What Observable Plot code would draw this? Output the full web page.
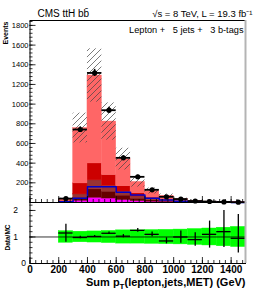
<!DOCTYPE html>
<html><head><meta charset="utf-8">
<script src="https://cdn.jsdelivr.net/npm/d3@7"></script>
<script src="https://cdn.jsdelivr.net/npm/@observablehq/plot@0.6"></script>
<style>
body{margin:0;background:#fff;}
#wrap{position:relative;width:258px;height:290px;background:#fff;}
#wrap svg{display:block;overflow:visible;}
</style></head><body>
<svg width="0" height="0" style="position:absolute"><defs>
<pattern id="hatch" patternUnits="userSpaceOnUse" width="6" height="6">
<path d="M-1,1 L1,-1 M0,6 L6,0 M5,7 L7,5" stroke="#444" stroke-width="0.7"/>
</pattern></defs></svg>
<div id="wrap"></div>
<script>
// ---- data ----
const binLo = [200,300,400,500,600,700,800,900,1000,1100,1200,1300,1400];
const binHi = [300,400,500,600,700,800,900,1000,1100,1200,1300,1400,1500];
const comps = ["single t / EWK","tt+bb","tt+b","tt+cc","tt+lf"];
const compColors = ["#ff00ff","#660000","#993333","#cc0000","#ff6666"];
const ewk  = [3, 18, 48, 40, 25, 14, 8, 5, 3, 1.5, 1, 0.5, 0.3];
const ttbb = [3, 30, 85, 70, 45, 25, 14, 8, 4, 2, 1, 0.6, 0.3];
const ttb  = [4, 34, 92, 60, 40, 22, 12, 7, 4, 2, 1, 0.6, 0.3];
const ttcc = [6, 112, 172, 108, 55, 32, 16, 9, 5, 2.5, 1.5, 0.8, 0.5];
const ttlf = [19, 563, 894, 545, 276, 116, 67, 39, 19, 9, 4.5, 2.5, 1.6];
const ttH  = [8, 42, 160, 160, 105, 75, 42, 25, 12, 6, 3, 2, 1];
const dataEvents = [40, 742, 1317, 938, 454, 261, 129, 58, 35, 15, 10, 6, 3];
const mcUnc = [0.22, 0.2, 0.21, 0.23, 0.25, 0.25, 0.26, 0.27, 0.28, 0.3, 0.32, 0.35, 0.38];
const ratio   = [1.15, 0.98, 1.02, 1.14, 1.03, 1.25, 1.1, 0.85, 1.0, 0.9, 1.1, 1.2, 0.95];
const ratioLo = [0.8, 0.93, 0.98, 1.09, 0.97, 1.18, 1.01, 0.74, 0.76, 0.65, 0.58, 0.6, 0.4];
const ratioHi = [1.48, 1.03, 1.06, 1.19, 1.09, 1.32, 1.19, 0.97, 1.23, 1.16, 1.6, 2.0, 1.85];
const xTicks = [0, 200, 400, 600, 800, 1000, 1200, 1400];
const yTicksTop = [200, 400, 600, 800, 1000, 1200, 1400, 1600, 1800];
const yTicksRatio = [0, 1, 2];

// ---- tables ----
const compArrays = [ewk, ttbb, ttb, ttcc, ttlf];
const stackRows = [];
comps.forEach((c, ci) => binLo.forEach((lo, i) => stackRows.push({comp: c, lo, hi: binHi[i], v: compArrays[ci][i]})));
const bins = binLo.map((lo, i) => ({
  lo, hi: binHi[i], c: (lo + binHi[i]) / 2,
  mc: compArrays.reduce((s, a) => s + a[i], 0),
  u: mcUnc[i], data: dataEvents[i],
  r: ratio[i], rlo: ratioLo[i], rhi: ratioHi[i]
}));
const sigSteps = binLo.map((lo, i) => ({x: lo, y: ttH[i]})).concat([{x: binHi[binHi.length-1], y: ttH[ttH.length-1]}]);

const FONT = "'Liberation Sans', Arial, Helvetica, sans-serif";
const W = 258, ML = 29.5, MR = 13;
const frameW = W - ML - MR;
const topH = 202, topMT = 20, topFH = topH - topMT;
const botH = 88, botMB = 27, botFH = botH - botMB;
const fmt = d => String(d);

const yMinorTop = d3.range(0, 1850, 40);
const xMinor = d3.range(0, 1501, 40);
const xMajor = d3.range(0, 1501, 200);
const yMinorRatio = d3.range(0, 2.31, 0.2);

const topPlot = Plot.plot({
  width: W, height: topH, marginTop: topMT, marginBottom: 0, marginLeft: ML, marginRight: MR,
  style: {fontFamily: FONT, overflow: "visible", background: "white", color: "black"},
  x: {domain: [0, 1500], axis: null},
  y: {domain: [0, 1850], axis: null},
  color: {type: "ordinal", domain: comps, range: compColors},
  marks: [
    Plot.rectY(stackRows, {x1: "lo", x2: "hi", y: "v", fill: "comp", stroke: "comp", strokeWidth: 0.4}),
    Plot.line(sigSteps, {x: "x", y: "y", curve: "step-after", stroke: "#0000cc", strokeWidth: 1.5}),
    Plot.rectY(bins, {x1: "lo", x2: "hi", y1: d => d.mc * (1 - d.u), y2: d => d.mc * (1 + d.u), fill: "url(#hatch)"}),
    Plot.ruleX(bins, {x: "c", y1: d => d.data - Math.sqrt(d.data), y2: d => d.data + Math.sqrt(d.data), stroke: "black", strokeWidth: 1.5}),
    Plot.ruleY(bins, {y: "data", x1: "lo", x2: "hi", stroke: "black", strokeWidth: 1.8}),
    Plot.dot(bins, {x: "c", y: "data", r: 2.6, fill: "black"}),
    Plot.frame({stroke: "black", strokeWidth: 1}),
    Plot.ruleX([1500], {stroke: "#b4b4b4", strokeWidth: 2}),
    Plot.tickY(yMinorTop, {y: d => d, insetRight: frameW - 3, stroke: "black", strokeWidth: 0.8}),
    Plot.tickY(yTicksTop, {y: d => d, insetRight: frameW - 6, stroke: "black", strokeWidth: 0.8}),
    Plot.tickX(xMinor, {x: d => d, insetTop: topFH - 3, stroke: "black", strokeWidth: 0.8}),
    Plot.tickX(xMajor, {x: d => d, insetTop: topFH - 6, stroke: "black", strokeWidth: 0.8}),
    Plot.axisY(yTicksTop, {tickSize: 0, tickPadding: 1.5, fontSize: 7.5, label: null, tickFormat: fmt}),
    Plot.text(["CMS ttH bb\u0304"], {text: d => d, frameAnchor: "top-left", dx: 7.5, dy: -6.5, lineAnchor: "middle", textAnchor: "start", fontSize: 10}),
    Plot.text(["\u221As = 8 TeV, L = 19.3 fb\u207B\u00B9"], {text: d => d, frameAnchor: "top-right", dx: 7, dy: -6.5, lineAnchor: "middle", textAnchor: "end", fontSize: 9.5}),
    Plot.text(["Lepton +\u00A0\u00A0 5 jets +\u00A0\u00A0 3 b-tags"], {text: d => d, frameAnchor: "top-right", dx: -2, dy: 9.5, lineAnchor: "middle", textAnchor: "end", fontSize: 9.2}),
    Plot.text(["Events"], {text: d => d, frameAnchor: "top-left", dx: -24, dy: 1, rotate: -90, textAnchor: "end", lineAnchor: "middle", fontSize: 7, fontWeight: "bold"})
  ]
});

const xTitle = "Sum pT(lepton,jets,MET) (GeV)";
const bottomPlot = Plot.plot({
  width: W, height: botH, marginTop: 0, marginBottom: botMB, marginLeft: ML, marginRight: MR,
  style: {fontFamily: FONT, overflow: "visible", background: "white", color: "black"},
  x: {domain: [0, 1500], axis: null},
  y: {domain: [0, 2.3], axis: null},
  marks: [
    Plot.rectY(bins, {x1: "lo", x2: "hi", y1: d => 1 - d.u, y2: d => 1 + d.u, fill: "#00ff00", stroke: "#00ff00", strokeWidth: 0.4}),
    Plot.ruleY([1], {stroke: "black", strokeWidth: 0.8}),
    Plot.ruleX(bins, {x: "c", y1: "rlo", y2: "rhi", stroke: "black", strokeWidth: 1.3}),
    Plot.ruleY(bins, {y: "r", x1: "lo", x2: "hi", stroke: "black", strokeWidth: 1.3}),
    Plot.frame({stroke: "black", strokeWidth: 1}),
    Plot.ruleX([1500], {stroke: "#b4b4b4", strokeWidth: 2}),
    Plot.tickY(yMinorRatio, {y: d => d, insetRight: frameW - 3, stroke: "black", strokeWidth: 0.8}),
    Plot.tickY(yTicksRatio, {y: d => d, insetRight: frameW - 6, stroke: "black", strokeWidth: 0.8}),
    Plot.tickX(xMinor, {x: d => d, insetTop: botFH - 3, stroke: "black", strokeWidth: 0.8}),
    Plot.tickX(xMajor, {x: d => d, insetTop: botFH - 6, stroke: "black", strokeWidth: 0.8}),
    Plot.axisX(xTicks, {tickSize: 0, tickPadding: 2, fontSize: 10, fontWeight: "bold", label: null, tickFormat: fmt}),
    Plot.axisY(yTicksRatio.slice(1), {tickSize: 0, tickPadding: 12, fontSize: 8.5, label: null, tickFormat: fmt}),
    Plot.axisY(yTicksRatio.slice(0, 1), {tickSize: 0, tickPadding: 4, fontSize: 8.5, label: null, tickFormat: fmt}),
    Plot.text(["Data/MC"], {text: d => d, frameAnchor: "left", dx: -22, dy: 4.5, rotate: -90, textAnchor: "middle", lineAnchor: "middle", fontSize: 6.5, fontWeight: "bold"}),
    Plot.text([xTitle], {text: d => d, frameAnchor: "bottom-right", dy: 18.5, textAnchor: "end", lineAnchor: "middle", fontSize: 11, fontWeight: "bold"})
  ]
});

// subscript T in the x title
bottomPlot.querySelectorAll("text").forEach(t => {
  if (t.textContent === xTitle) {
    t.textContent = "";
    const ns = "http://www.w3.org/2000/svg";
    const a = document.createElementNS(ns, "tspan"); a.textContent = "Sum p";
    const b = document.createElementNS(ns, "tspan"); b.textContent = "T"; b.setAttribute("dy", "3"); b.setAttribute("font-size", "8");
    const c = document.createElementNS(ns, "tspan"); c.textContent = "(lepton,jets,MET) (GeV)"; c.setAttribute("dy", "-3");
    t.append(a, b, c);
  }
});

document.getElementById("wrap").append(topPlot, bottomPlot);
</script>
</body></html>
